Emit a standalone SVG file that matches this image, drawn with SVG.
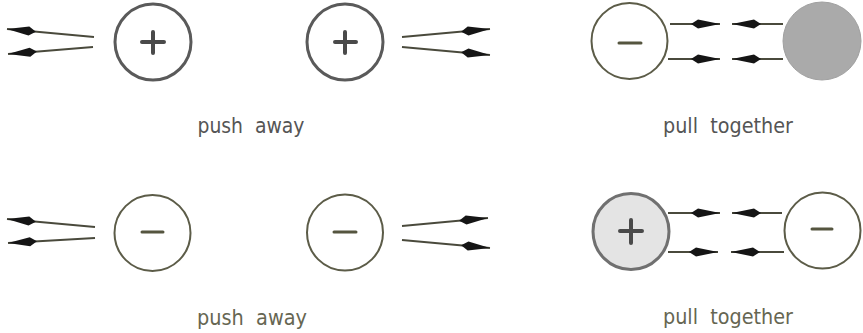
<svg xmlns="http://www.w3.org/2000/svg" width="863" height="333" viewBox="0 0 863 333">
<style>
.ring{fill:#fff;stroke:#5a5a5a;stroke-width:3}
.ring2{fill:#fff;stroke:#5c5c48;stroke-width:2}
.sign{stroke:#4a4a4a;stroke-width:4;stroke-linecap:round;fill:none}
.sign2{stroke:#55553f;stroke-width:3;stroke-linecap:round;fill:none}
.con{stroke:#4a4a3c;stroke-width:2;fill:none;marker-end:url(#kite)}
.lbl{font-family:"DejaVu Sans","Liberation Sans",sans-serif;font-size:21px;fill:#555;text-anchor:middle;white-space:pre}
.lbl2{font-family:"DejaVu Sans","Liberation Sans",sans-serif;font-size:21px;fill:#666652;text-anchor:middle;white-space:pre}
</style>
<defs>
<marker id="kite" markerUnits="userSpaceOnUse" markerWidth="32" markerHeight="12" viewBox="-30 -6 32 12" refX="0" refY="0" orient="auto">
<path d="M0,0 L-22,-4.5 L-29,0 L-22,4.5 Z" fill="#151515"/>
</marker>
</defs>
<g id="connectors">
<line class="con" x1="94" y1="37" x2="7" y2="29"/>
<line class="con" x1="93" y1="47" x2="8" y2="54"/>
<line class="con" x1="402" y1="37" x2="490" y2="29"/>
<line class="con" x1="402" y1="47" x2="490" y2="55"/>
<line class="con" x1="670" y1="24" x2="720" y2="24"/>
<line class="con" x1="783" y1="24" x2="732" y2="24"/>
<line class="con" x1="668" y1="59" x2="720" y2="59"/>
<line class="con" x1="783" y1="59" x2="732" y2="59"/>
<line class="con" x1="95" y1="227" x2="7" y2="219"/>
<line class="con" x1="95" y1="238" x2="8" y2="243"/>
<line class="con" x1="402" y1="226" x2="488" y2="218"/>
<line class="con" x1="402" y1="240" x2="490" y2="248"/>
<line class="con" x1="668" y1="213" x2="720" y2="213"/>
<line class="con" x1="782" y1="213" x2="732" y2="213"/>
<line class="con" x1="668" y1="252" x2="718" y2="252"/>
<line class="con" x1="784" y1="252" x2="731" y2="252"/>
</g>
<g id="node-plus-1">
<circle class="ring" cx="153" cy="42" r="38"/>
<path class="sign" d="M142,42 H164 M153,32 V53"/>
</g>
<g id="node-plus-2">
<circle class="ring" cx="345" cy="42" r="38"/>
<path class="sign" d="M335,42 H356 M345,32 V53"/>
</g>
<g id="node-minus-1">
<circle class="ring2" cx="629.5" cy="41" r="38"/>
<path class="sign2" d="M619,43 H641"/>
</g>
<g id="node-gray-1">
<circle cx="822" cy="41" r="39" fill="#aaaaaa" stroke="#a0a0a0" stroke-width="1"/>
</g>
<g id="node-minus-2">
<circle class="ring2" cx="152.5" cy="233" r="38"/>
<path class="sign2" d="M142,232 H163"/>
</g>
<g id="node-minus-3">
<circle class="ring2" cx="345" cy="232.5" r="38"/>
<path class="sign2" d="M334,232 H356"/>
</g>
<g id="node-plus-3">
<circle cx="631" cy="231.5" r="38" fill="#e4e4e4" stroke="#707070" stroke-width="3"/>
<path class="sign" d="M620,231 H642 M631,220 V243" stroke="#555"/>
</g>
<g id="node-minus-4">
<circle class="ring2" cx="822.5" cy="230.5" r="38"/>
<path class="sign2" d="M812,229 H832"/>
</g>
<g id="labels">
<text class="lbl" x="251" y="133" textLength="107" lengthAdjust="spacingAndGlyphs" xml:space="preserve">push  away</text>
<text class="lbl" x="728" y="133" textLength="130" lengthAdjust="spacingAndGlyphs" xml:space="preserve">pull  together</text>
<text class="lbl2" x="252" y="325" textLength="110" lengthAdjust="spacingAndGlyphs" xml:space="preserve">push  away</text>
<text class="lbl2" x="728" y="324" textLength="130" lengthAdjust="spacingAndGlyphs" xml:space="preserve">pull  together</text>
</g>
</svg>
